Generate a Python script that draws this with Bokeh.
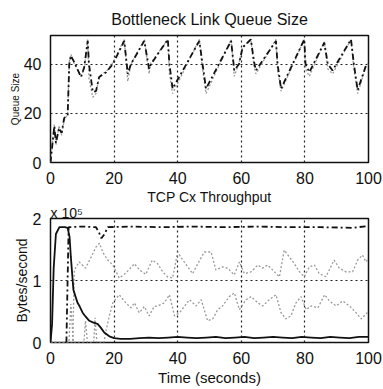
from bokeh.plotting import figure
from bokeh.layouts import column
from bokeh.models import FixedTicker, Range1d, Title
from bokeh.embed import file_html
from bokeh.resources import INLINE

# ---- data: Bottleneck link queue size (packets) ----
q_t = [0, 1.2, 1.7, 2.7, 3.5, 4.3, 5.4, 5.9, 6.4, 7.5, 9.6, 10.6, 11.7, 12.1, 13.3, 14.3, 15.3,
       17.5, 19.6, 23.2, 24.3, 25.3, 29.5, 31.0, 31.6, 36.9, 37.4, 38.4, 46.8, 47.6, 48.9, 56.8,
       57.8, 59.3, 60.4, 63.0, 64.0, 64.6, 70.9, 71.4, 72.5, 79.8, 80.2, 81.4, 86.1, 87.2, 88.7,
       94.5, 95.4, 96.6, 99.2, 100]
q_avg = [0, 14.7, 8, 14, 12, 18, 19.4, 40, 43.4, 40.7, 34.7, 38.7, 49.4, 40, 28.7, 29, 34.7,
         36.7, 40, 49.4, 36, 40, 49.4, 38, 40, 50, 40, 30, 49.4, 42, 30, 49.4,
         37.4, 40, 46.7, 50, 41, 37.4, 49.4, 40, 30, 50, 40, 36.7, 48.7, 40, 37.4,
         50, 40, 29.4, 39.4, 40]
q_inst = [0, 15.5, 7, 15, 11, 17, 20, 41, 44, 40, 35, 38, 50, 34, 26.5, 28, 35,
          37, 40.5, 50, 33, 40, 50, 36, 40.5, 50, 36, 28, 50, 40, 28, 50,
          35, 40.5, 47, 50, 39, 36, 50, 38, 29, 50, 38, 35, 49, 38, 36,
          50, 38, 28, 39, 40]

# ---- data: TCP connection throughput (x 10^5 bytes/second) ----
f1_t = [0, 0.5, 1.0, 1.7, 2.8, 4.5, 5.4, 6.0, 6.4, 7.2, 8.0, 8.5, 9.2, 10.1, 11.0, 12.2, 13.5,
        14.8, 15.8, 16.9, 18.5, 20, 22, 25, 28, 31, 34, 37, 40, 43, 46, 49, 52, 55, 58, 61,
        64, 67, 70, 73, 76, 79, 82, 85, 88, 91, 94, 97, 100]
f1_v = [0, 0.3, 1.2, 1.75, 1.86, 1.86, 1.85, 1.7, 1.38, 0.85, 0.72, 0.64, 0.58, 0.48, 0.42, 0.35,
        0.32, 0.3, 0.24, 0.16, 0.1, 0.07, 0.06, 0.06, 0.07, 0.08, 0.07, 0.08, 0.09, 0.08, 0.07,
        0.08, 0.09, 0.07, 0.08, 0.09, 0.07, 0.08, 0.09, 0.08, 0.07, 0.09, 0.08, 0.07, 0.09, 0.08,
        0.07, 0.09, 0.09]

f2_t = [5.0, 5.7, 10, 14.3, 15.2, 16.0, 17.0, 18.0, 25, 35, 45, 55, 65, 75, 85, 95, 100]
f2_v = [0, 1.86, 1.87, 1.86, 1.78, 1.68, 1.75, 1.86, 1.87, 1.86, 1.87, 1.86, 1.87, 1.86, 1.86,
        1.85, 1.88]

f3_t = [0, 7.0, 7.5, 9, 11, 12.6, 14.3, 15.4, 16.5, 18, 19.6, 21.6, 23.7, 26.4, 28, 30, 32, 33.7,
        35.3, 36.8, 38.4, 40, 41.6, 43.2, 44.7, 46.3, 48.4, 50.5, 52, 54.1, 55.7, 57.8, 59.4, 61,
        63.1, 65.2, 66.7, 68.3, 70.4, 72, 73.5, 75.1, 76.7, 78.3, 79.8, 81.4, 83, 84.5, 86.6, 89.2,
        90.8, 92.9, 95, 96.6, 98.1, 99.2, 100]
f3_v = [0, 0, 1.17, 1.3, 1.2, 1.36, 1.54, 1.6, 1.45, 1.33, 1.25, 1.04, 1.12, 1.27, 1.17, 1.1, 1.33,
        1.27, 1.14, 1.06, 1.04, 1.46, 1.33, 1.22, 1.11, 1.27, 1.46, 1.46, 1.17, 1.22, 1.2, 1.09,
        1.3, 1.11, 1.14, 1.25, 1.2, 1.25, 1.14, 1.06, 1.49, 1.38, 1.27, 1.14, 1.06, 1.22, 1.25,
        1.11, 1.06, 1.33, 1.2, 1.14, 1.14, 1.33, 1.41, 1.3, 1.35]

f4_t = [0, 5.8, 6.4, 7.2, 10.5, 11, 11.6, 13.6, 14, 14.6, 16.8, 17.5, 18.5, 19.6, 21.6, 23.7, 25.3,
        26.4, 27.9, 29.5, 31, 32.6, 33.7, 35.8, 37.4, 39, 40.6, 42.2, 43.7, 45.8, 47.4, 49.4, 51,
        52.6, 54.1, 56.2, 57.8, 59.4, 61.5, 63.1, 65.2, 66.7, 68.8, 70.9, 72.5, 74, 75.6, 77.2,
        78.8, 80.4, 82, 84.1, 86.2, 87.7, 89.8, 91.9, 94, 96.1, 97.7, 99.2, 100]
f4_v = [0, 0, 0.62, 0, 0, 0.35, 0, 0, 0.4, 0, 0, 0.2, 0.43, 0.64, 0.77, 0.64, 0.56, 0.64, 0.48,
        0.58, 0.43, 0.58, 0.59, 0.64, 0.77, 0.43, 0.48, 0.59, 0.69, 0.59, 0.69, 0.35, 0.38, 0.53,
        0.59, 0.74, 0.8, 0.53, 0.69, 0.74, 0.64, 0.59, 0.69, 0.77, 0.48, 0.38, 0.43, 0.64, 0.74,
        0.53, 0.59, 0.56, 0.77, 0.67, 0.59, 0.67, 0.59, 0.48, 0.38, 0.46, 0.5]

x_ticks = [0, 20, 40, 60, 80, 100]
q_ticks = [0, 20, 40]
b_ticks = [0, 1, 2]

FONT = "Liberation Sans"
INK = "#111111"
GREY = "#9a9a9a"


def style(p, yticks):
    p.xaxis.ticker = FixedTicker(ticks=x_ticks)
    p.yaxis.ticker = FixedTicker(ticks=yticks)
    for ax in (p.xaxis[0], p.yaxis[0]):
        ax.axis_line_color = None
        ax.major_tick_line_color = None
        ax.minor_tick_line_color = None
        ax.major_label_text_font = FONT
        ax.major_label_text_font_size = "16px"
        ax.major_label_text_color = INK
        ax.axis_label_text_font = FONT
        ax.axis_label_text_font_style = "normal"
        ax.axis_label_text_color = INK
    p.xaxis.major_label_standoff = 3
    p.yaxis.major_label_standoff = 3
    p.xgrid.ticker = FixedTicker(ticks=x_ticks)
    p.ygrid.ticker = FixedTicker(ticks=yticks)
    for g in (p.xgrid[0], p.ygrid[0]):
        g.grid_line_color = "#222222"
        g.grid_line_dash = "2 3"
        g.grid_line_width = 1.2
    p.outline_line_color = INK
    p.outline_line_width = 1.5
    p.background_fill_color = "white"
    p.border_fill_color = "white"


def style_title(t, size, align):
    t.align = align
    t.text_font = FONT
    t.text_font_size = size
    t.text_font_style = "normal"
    t.text_color = INK


# ---- top: queue size ----
p1 = figure(width=383, height=186, output_backend="svg", toolbar_location=None,
            x_range=Range1d(0, 100), y_range=Range1d(0, 51.6),
            min_border_left=50, min_border_right=15, min_border_top=35, min_border_bottom=23)
style(p1, q_ticks)
p1.title.text = "Bottleneck Link Queue Size"
style_title(p1.title, "16px", "center")
p1.title.standoff = 16
p1.yaxis.axis_label = "Queue Size"
p1.yaxis.axis_label_text_font_size = "10px"
p1.yaxis.axis_label_standoff = 0
p1.line(q_t, q_inst, line_color=GREY, line_width=1.3, line_dash="2 2")
p1.line(q_t, q_avg, line_color=INK, line_width=1.8, line_dash="6 3 2 3")

# ---- bottom: throughput ----
p2 = figure(width=383, height=203, output_backend="svg", toolbar_location=None,
            x_range=Range1d(0, 100), y_range=Range1d(0, 2),
            min_border_left=50, min_border_right=15, min_border_top=30, min_border_bottom=47)
style(p2, b_ticks)
p2.title.text = "TCP Cx Throughput"
style_title(p2.title, "14px", "center")
p2.title.standoff = 0
scale_note = Title(text="x 10\u2075", standoff=-4)
style_title(scale_note, "14px", "left")
p2.add_layout(scale_note, "above")
p2.yaxis.axis_label = "Bytes/second"
p2.yaxis.axis_label_text_font_size = "14px"
p2.yaxis.axis_label_standoff = 0
p2.xaxis.axis_label = "Time (seconds)"
p2.xaxis.axis_label_text_font_size = "15px"
p2.xaxis.axis_label_standoff = 2
p2.line(f3_t, f3_v, line_color=GREY, line_width=1.3, line_dash="2 2")
p2.line(f4_t, f4_v, line_color=GREY, line_width=1.3, line_dash="2 2")
p2.line(f2_t, f2_v, line_color=INK, line_width=1.8, line_dash="6 3 2 3")
p2.line(f1_t, f1_v, line_color=INK, line_width=1.8)

layout = column(p1, p2)
open("out.html", "w").write(file_html(layout, INLINE))
